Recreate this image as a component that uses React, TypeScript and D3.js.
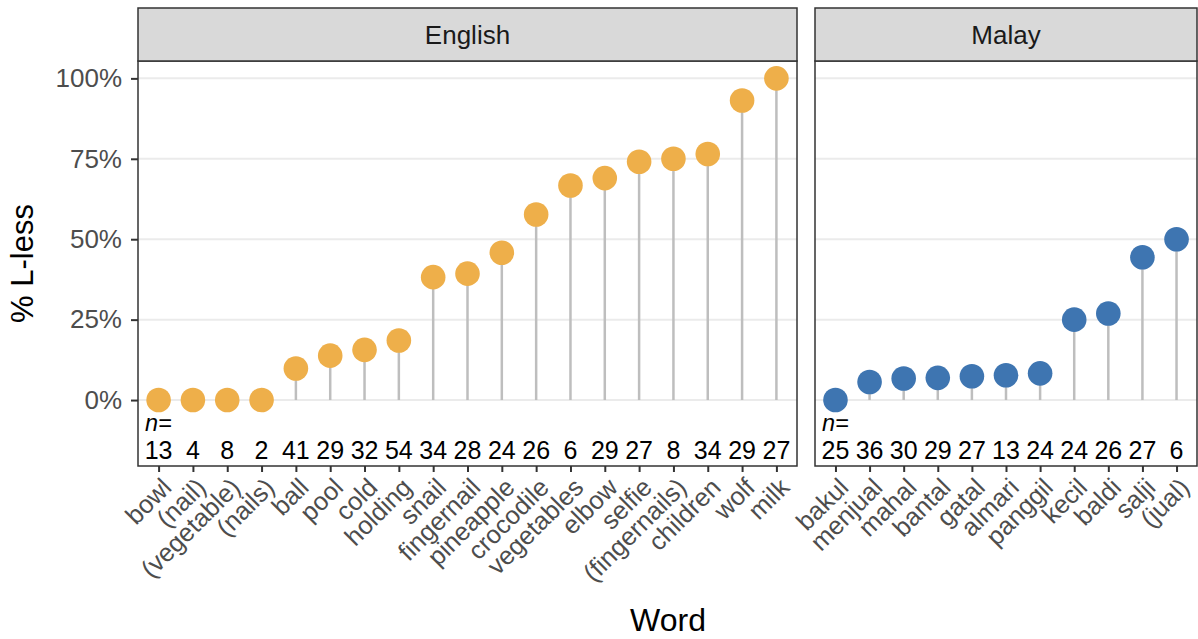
import React, { useRef, useEffect } from 'react';
import * as d3 from 'd3';

// English words, % L-less and number of tokens
const englishWords = ["bowl", "(nail)", "(vegetable)", "(nails)", "ball", "pool", "cold", "holding", "snail", "fingernail", "pineapple", "crocodile", "vegetables", "elbow", "selfie", "(fingernails)", "children", "wolf", "milk"];
const englishPct = [0, 0, 0, 0, 9.8, 13.8, 15.6, 18.5, 38.2, 39.3, 45.8, 57.7, 66.7, 69, 74.1, 75, 76.5, 93.1, 100];
const englishN = [13, 4, 8, 2, 41, 29, 32, 54, 34, 28, 24, 26, 6, 29, 27, 8, 34, 29, 27];

// Malay words
const malayWords = ["bakul", "menjual", "mahal", "bantal", "gatal", "almari", "panggil", "kecil", "baldi", "salji", "(jual)"];
const malayPct = [0, 5.6, 6.7, 6.9, 7.4, 7.7, 8.3, 25, 26.9, 44.4, 50];
const malayN = [25, 36, 30, 29, 27, 13, 24, 24, 26, 27, 6];

const yTicks = [0, 25, 50, 75, 100];

const W = 1198;
const H = 639;
const FONT = "'Liberation Sans', Arial, Helvetica, sans-serif";

const panels = [
  { name: "English", words: englishWords, pct: englishPct, n: englishN, color: "#EEAF4A", x0: 138, x1: 797 },
  { name: "Malay", words: malayWords, pct: malayPct, n: malayN, color: "#3E75B1", x0: 815, x1: 1197 },
];

const App = () => {
  const ref = useRef<SVGSVGElement>(null);

  useEffect(() => {
    const svg = d3.select(ref.current);
    svg.selectAll("*").remove();

    const top = 61, bottom = 466;
    const y = d3.scaleLinear().domain([-20.5, 105.4]).range([bottom, top]);

    panels.forEach((p, pi) => {
      const data = p.words.map((w, i) => ({ word: w, pct: p.pct[i], n: p.n[i] }));
      const x = d3.scalePoint<string>().domain(p.words).range([p.x0, p.x1]).padding(0.6);
      const g = svg.append("g");

      g.append("rect")
        .attr("x", p.x0).attr("y", top)
        .attr("width", p.x1 - p.x0).attr("height", bottom - top)
        .attr("fill", "white");

      // grid
      g.selectAll(".grid").data(yTicks).join("line")
        .attr("x1", p.x0).attr("x2", p.x1)
        .attr("y1", d => y(d)).attr("y2", d => y(d))
        .attr("stroke", "#EBEBEB").attr("stroke-width", 2);

      // stems
      g.selectAll(".stem").data(data).join("line")
        .attr("x1", d => x(d.word)!).attr("x2", d => x(d.word)!)
        .attr("y1", y(0)).attr("y2", d => y(d.pct))
        .attr("stroke", "#BEBEBE").attr("stroke-width", 2.5);

      // points
      g.selectAll(".pt").data(data).join("circle")
        .attr("cx", d => x(d.word)!).attr("cy", d => y(d.pct))
        .attr("r", 12.3)
        .attr("fill", p.color);

      // n labels
      g.append("text")
        .attr("x", p.x0 + 7).attr("y", 431)
        .attr("font-family", FONT).attr("font-size", 23.5).attr("font-style", "italic")
        .attr("fill", "black")
        .text("n=");

      g.selectAll(".nlab").data(data).join("text")
        .attr("x", d => x(d.word)!).attr("y", 459)
        .attr("text-anchor", "middle")
        .attr("font-family", FONT).attr("font-size", 25)
        .attr("fill", "black")
        .text(d => d.n);

      // border
      g.append("rect")
        .attr("x", p.x0).attr("y", top)
        .attr("width", p.x1 - p.x0).attr("height", bottom - top)
        .attr("fill", "none").attr("stroke", "#333333").attr("stroke-width", 1.5);

      // strip
      g.append("rect")
        .attr("x", p.x0).attr("y", 8)
        .attr("width", p.x1 - p.x0).attr("height", top - 8)
        .attr("fill", "#D9D9D9").attr("stroke", "#333333").attr("stroke-width", 1.5);
      g.append("text")
        .attr("x", (p.x0 + p.x1) / 2).attr("y", 35)
        .attr("dy", "0.35em")
        .attr("text-anchor", "middle")
        .attr("font-family", FONT).attr("font-size", 26)
        .attr("fill", "#1A1A1A")
        .text(p.name);

      // x axis
      const xa = svg.append("g")
        .attr("transform", `translate(0,${bottom})`)
        .call(d3.axisBottom(x).tickSize(6).tickSizeOuter(0).tickPadding(0));
      xa.select(".domain").remove();
      xa.selectAll(".tick line").attr("stroke", "#333333").attr("stroke-width", 2);
      xa.selectAll(".tick text")
        .attr("font-family", FONT).attr("font-size", 25.5)
        .attr("fill", "#4D4D4D")
        .attr("text-anchor", "end")
        .attr("y", null)
        .attr("transform", "translate(1,10) rotate(-45)")
        .attr("dy", "0.72em");

      if (pi === 0) {
        const ya = svg.append("g")
          .attr("transform", `translate(${p.x0},0)`)
          .call(d3.axisLeft(y).tickValues(yTicks).tickSize(7).tickPadding(9).tickFormat(d => `${d}%`));
        ya.select(".domain").remove();
        ya.selectAll(".tick line").attr("stroke", "#333333").attr("stroke-width", 2);
        ya.selectAll(".tick text")
          .attr("font-family", FONT).attr("font-size", 26)
          .attr("fill", "#4D4D4D");
      }
    });

    // axis titles
    svg.append("text")
      .attr("x", 668).attr("y", 631)
      .attr("text-anchor", "middle")
      .attr("font-family", FONT).attr("font-size", 32)
      .attr("fill", "black")
      .text("Word");

    svg.append("text")
      .attr("transform", `translate(33,${(61 + 466) / 2}) rotate(-90)`)
      .attr("text-anchor", "middle")
      .attr("font-family", FONT).attr("font-size", 31)
      .attr("fill", "black")
      .text("% L-less");
  }, []);

  return (
    <svg ref={ref} width={W} height={H}
      style={{ position: "absolute", left: 0, top: 0, background: "white" }} />
  );
};

export default App;
